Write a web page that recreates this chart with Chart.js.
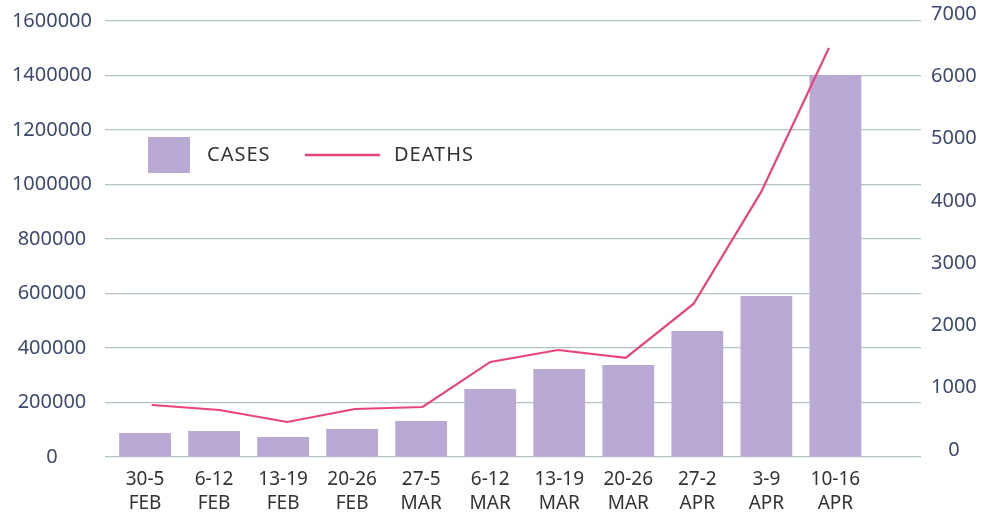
<!DOCTYPE html>
<html>
<head>
<meta charset="utf-8">
<script src="https://cdn.jsdelivr.net/npm/chart.js@4"></script>
<style>
  html, body { margin: 0; padding: 0; background: #fff; }
  #wrap { width: 992px; height: 512px; position: relative; }
</style>
</head>
<body>
<div id="wrap"><canvas id="chart" width="992" height="512"></canvas></div>
<script>
// ── Data ─────────────────────────────────────────────────────────────────────
const weekLabels = [
  ['30-5', 'FEB'], ['6-12', 'FEB'], ['13-19', 'FEB'], ['20-26', 'FEB'],
  ['27-5', 'MAR'], ['6-12', 'MAR'], ['13-19', 'MAR'], ['20-26', 'MAR'],
  ['27-2', 'APR'], ['3-9', 'APR'], ['10-16', 'APR'],
];
const cases  = [88000, 95000, 73000, 103000, 132000, 250000, 323000, 338000, 462000, 591000, 1402000];
const deaths = [835, 755, 562, 771, 803, 1526, 1718, 1590, 2457, 4256, 6568];

const casesTicks  = [0, 200000, 400000, 600000, 800000, 1000000, 1200000, 1400000, 1600000];
const deathsTicks = [0, 1000, 2000, 3000, 4000, 5000, 6000, 7000];

const BAR_COLOR  = '#b8aad5';
const LINE_COLOR = '#e8447a';
const GRID_COLOR = '#b3c2c5';
const FONT = "'Noto Sans', sans-serif";

// ── Legend drawn inside the plot area ───────────────────────────────────────
const innerLegend = {
  id: 'innerLegend',
  afterDatasetsDraw(chart) {
    const ctx = chart.ctx;
    ctx.save();
    ctx.fillStyle = BAR_COLOR;
    ctx.fillRect(148, 137, 42, 36);
    ctx.strokeStyle = LINE_COLOR;
    ctx.lineWidth = 2.5;
    ctx.beginPath();
    ctx.moveTo(305, 155);
    ctx.lineTo(380, 155);
    ctx.stroke();
    ctx.fillStyle = '#333333';
    ctx.font = '20px ' + FONT;
    ctx.letterSpacing = '1px';
    ctx.textBaseline = 'middle';
    ctx.fillText('CASES', 207, 155);
    ctx.fillText('DEATHS', 394, 155);
    ctx.restore();
  },
};

// y axes: fixed widths, no extra label padding so the plot spans 21..457
function fixY(width) {
  return s => { s.width = width; s.paddingTop = 0; s.paddingBottom = 0; };
}
function fixX(height) {
  return s => { s.height = height; s.paddingLeft = 0; s.paddingRight = 0; };
}

// ── Chart ────────────────────────────────────────────────────────────────────
new Chart(document.getElementById('chart'), {
  data: {
    datasets: [
      {
        type: 'line',
        label: 'DEATHS',
        data: deaths.map((v, i) => ({ x: i, y: v })),
        xAxisID: 'xLine',
        yAxisID: 'yDeaths',
        borderColor: LINE_COLOR,
        borderWidth: 2.2,
        pointRadius: 0,
        tension: 0,
        order: 0,
      },
      {
        type: 'bar',
        label: 'CASES',
        data: cases.map((v, i) => ({ x: i, y: v })),
        xAxisID: 'x',
        yAxisID: 'yCases',
        backgroundColor: BAR_COLOR,
        barPercentage: 0.75,
        categoryPercentage: 1,
        grouped: false,
        order: 1,
      },
    ],
  },
  options: {
    responsive: false, animation: false,
    layout: { padding: { top: 21, bottom: 0, left: 0, right: 0 } },
    plugins: { legend: { display: false }, tooltip: { enabled: false } },
    scales: {
      x: {
        type: 'linear',
        offset: false,
        min: -0.58, max: 11.24,
        afterBuildTicks: s => { s.ticks = weekLabels.map((_, i) => ({ value: i })); },
        afterFit: fixX(55),
        grid: { display: false },
        border: { display: false },
        ticks: {
          callback: v => weekLabels[v],
          color: '#333333',
          font: { family: FONT, size: 19, lineHeight: 1.25 },
          padding: 3,
          maxRotation: 0, autoSkip: false,
        },
      },
      // hidden secondary x axis for the deaths line (points sit slightly apart from bar centres)
      xLine: {
        type: 'linear',
        position: 'bottom',
        display: false,
        offset: false,
        min: -0.69, max: 11.36,
      },
      yCases: {
        position: 'left',
        min: 0, max: 1600000,
        afterBuildTicks: s => { s.ticks = casesTicks.map(v => ({ value: v })); },
        afterFit: fixY(105),
        grid: { color: GRID_COLOR, lineWidth: 1.2, drawTicks: false },
        border: { display: false },
        ticks: {
          callback: v => String(v),
          color: '#3b4a6e',
          crossAlign: 'center',
          padding: 13,
          font: { family: FONT, size: 20 },
        },
      },
      yDeaths: {
        position: 'right',
        min: 0, max: 7000,
        afterBuildTicks: s => { s.ticks = deathsTicks.map(v => ({ value: v })); },
        afterFit: fixY(71),
        grid: { display: false, drawTicks: false },
        border: { display: false },
        ticks: {
          callback: v => String(v),
          color: '#3b4a6e',
          crossAlign: 'center',
          padding: 10,
          labelOffset: -7,
          font: { family: FONT, size: 20 },
        },
      },
    },
  },
  plugins: [innerLegend],
});
</script>
</body>
</html>
